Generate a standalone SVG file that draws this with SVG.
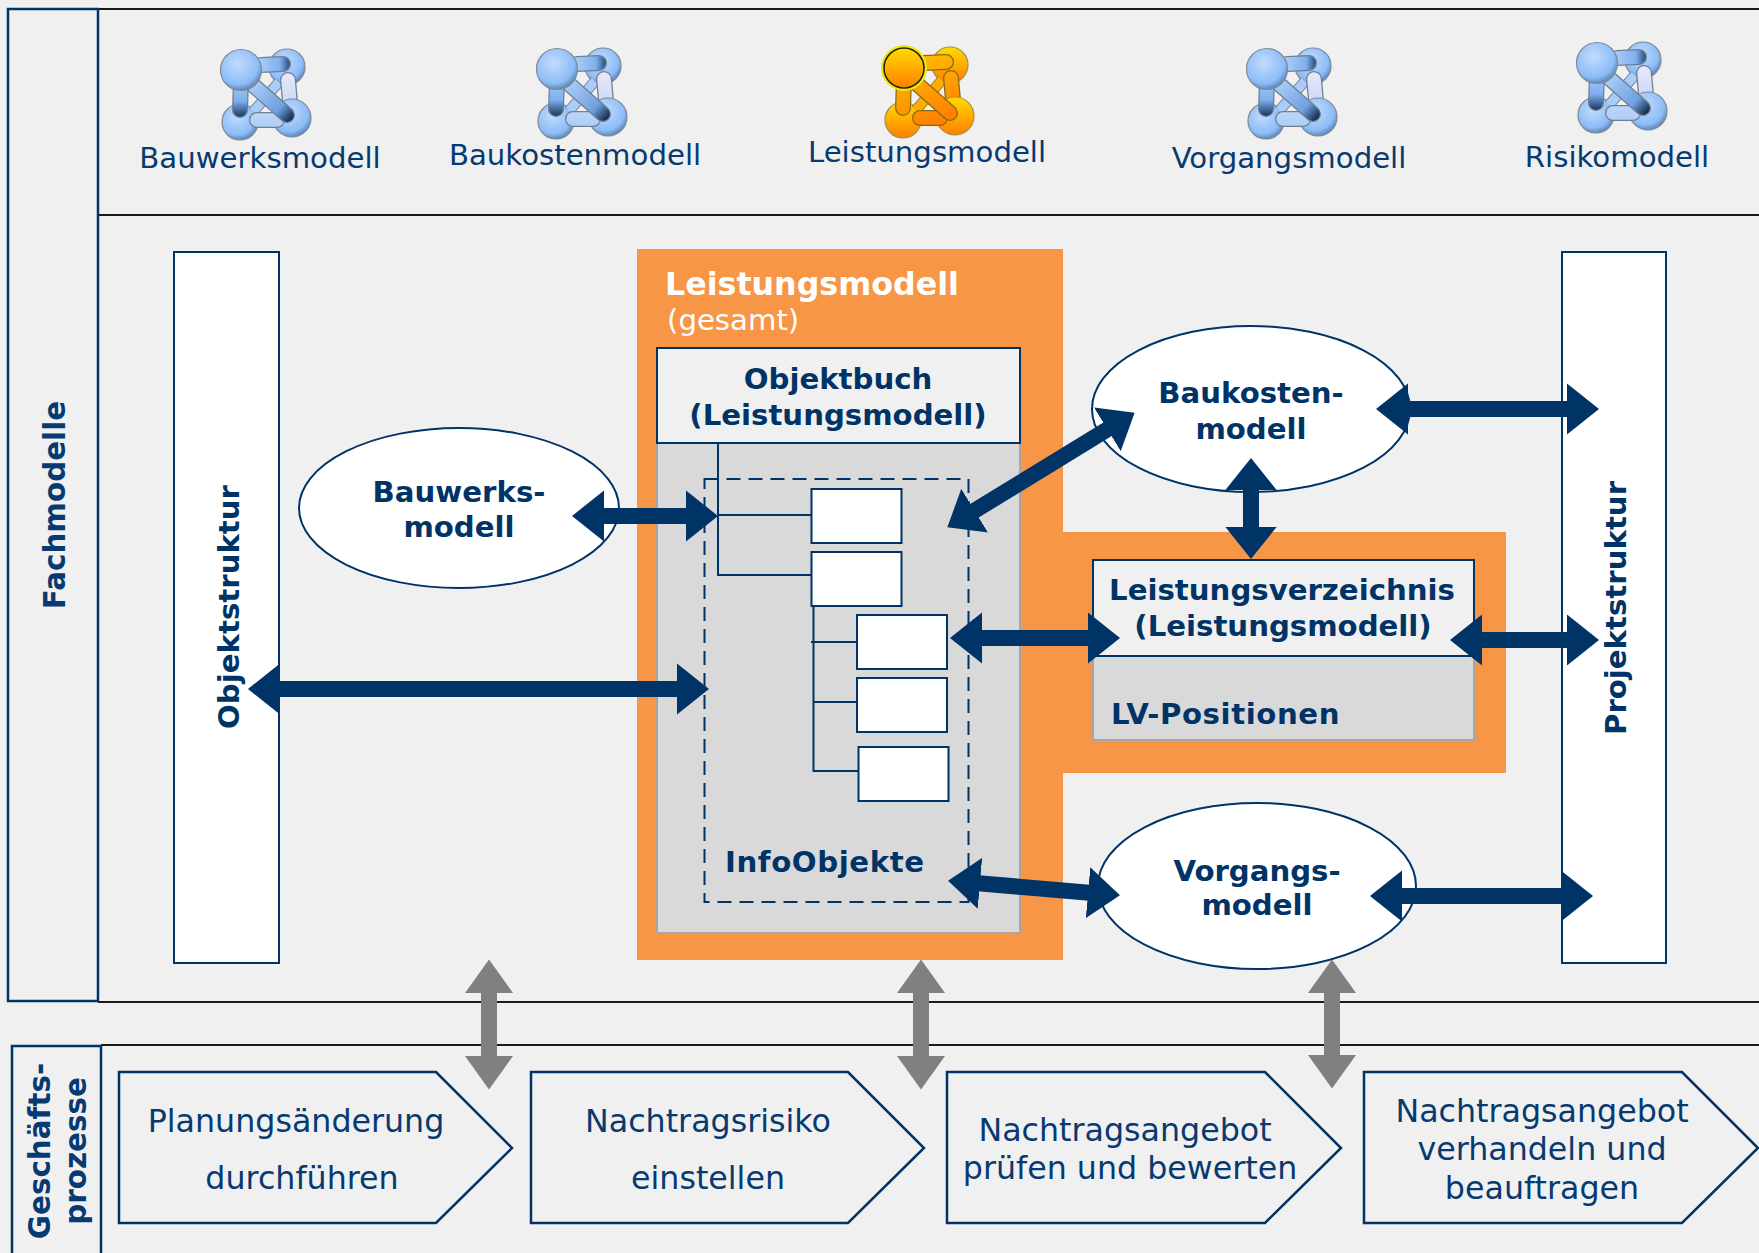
<svg xmlns="http://www.w3.org/2000/svg" xmlns:xlink="http://www.w3.org/1999/xlink" width="1759" height="1253" viewBox="0 0 1759 1253">
<style>
text{font-family:"DejaVu Sans",Verdana,sans-serif;fill:#003366}
.c{text-anchor:middle}
.b{font-weight:bold;font-size:29.2px}
.r{font-size:29.2px;fill:#063a70}
.s{font-size:31.7px;fill:#063a70}
.side{font-weight:bold;font-size:29.4px;text-anchor:middle;fill:#063a70}
.edge{fill:none;stroke:#003366;stroke-width:2.5}
.thin{fill:none;stroke:#003366;stroke-width:2}
.blk{stroke:#1a1a1a;stroke-width:2}
.wht{fill:#fff;stroke:#003366;stroke-width:2}
.arr{stroke:#003366;stroke-width:16;fill:none;marker-start:url(#h);marker-end:url(#h)}
.gar{stroke:#808080;stroke-width:16;fill:none;marker-start:url(#g);marker-end:url(#g)}
.o{stroke:#6f7f92;stroke-width:16;stroke-linecap:round}
.oo{stroke:#8a6a10;stroke-width:16;stroke-linecap:round}
.f{stroke-width:13.500;stroke-linecap:round}
</style>
<defs>
<marker id="h" viewBox="0 0 2 3.2" markerWidth="2" markerHeight="3.2" refX="1" refY="1.6" orient="auto-start-reverse"><path d="M0 0L2 1.6L0 3.2Z" fill="#003366"/></marker>
<marker id="g" viewBox="0 0 2.1 3" markerWidth="2.1" markerHeight="3" refX="1" refY="1.5" orient="auto-start-reverse"><path d="M0 0L2.1 1.5L0 3Z" fill="#808080"/></marker>
<radialGradient id="bc" cx=".42" cy=".35" r=".72"><stop offset="0" stop-color="#c2dcfd"/><stop offset=".7" stop-color="#8cbcf8"/><stop offset="1" stop-color="#4a6f9c"/></radialGradient>
<linearGradient id="bv" gradientUnits="userSpaceOnUse" x1="0" y1="8" x2="0" y2="46"><stop offset="0" stop-color="#a9cdf8"/><stop offset=".6" stop-color="#7fb0ee"/><stop offset="1" stop-color="#1d3f66"/></linearGradient>
<linearGradient id="bh" gradientUnits="userSpaceOnUse" x1="18" y1="0" x2="48" y2="0"><stop offset="0" stop-color="#a9cdf8"/><stop offset=".7" stop-color="#7fb0ee"/><stop offset="1" stop-color="#2c5587"/></linearGradient>
<linearGradient id="bd" gradientUnits="userSpaceOnUse" x1="12" y1="15" x2="50" y2="49"><stop offset="0" stop-color="#a9cdf8"/><stop offset=".7" stop-color="#6f9fe0"/><stop offset="1" stop-color="#14304f"/></linearGradient>
<linearGradient id="bl" gradientUnits="userSpaceOnUse" x1="0" y1="0" x2="0" y2="60"><stop offset="0" stop-color="#f0e8f8"/><stop offset="1" stop-color="#a9cdf8"/></linearGradient>
<linearGradient id="oc" x1="0" y1="0" x2="0" y2="1"><stop offset="0" stop-color="#ffdc00"/><stop offset="1" stop-color="#ff7d00"/></linearGradient>
<linearGradient id="ob" gradientUnits="userSpaceOnUse" x1="0" y1="-10" x2="30" y2="55"><stop offset="0" stop-color="#ffc000"/><stop offset="1" stop-color="#ff8000"/></linearGradient>
<g id="iconB" fill="none">
<circle cx="46" cy="-3" r="18" fill="url(#bc)" stroke="#7f8a96" stroke-width="1.2"/>
<circle cx="-1" cy="52" r="18" fill="url(#bc)" stroke="#7f8a96" stroke-width="1.2"/>
<line x1="12" y1="42" x2="38" y2="12" stroke="#6f7f92" stroke-width="11"/>
<line x1="12" y1="42" x2="38" y2="12" stroke="#a9cdf8" stroke-width="9"/>
<line class="o" x1="0" y1="10" x2="-1" y2="40"/><line class="f" x1="0" y1="10" x2="-1" y2="40" stroke="url(#bv)"/>
<line class="o" x1="20" y1="-5" x2="42" y2="-6"/><line class="f" x1="20" y1="-5" x2="42" y2="-6" stroke="url(#bh)"/>
<line class="o" x1="47" y1="10" x2="49" y2="32"/><line class="f" x1="47" y1="10" x2="49" y2="32" stroke="url(#bl)"/>
<circle cx="51" cy="48" r="19" fill="url(#bc)" stroke="#7f8a96" stroke-width="1.2"/>
<line class="o" x1="16" y1="50" x2="36" y2="50"/><line class="f" x1="16" y1="50" x2="36" y2="50" stroke="url(#bl)"/>
<line class="o" x1="12" y1="15" x2="46" y2="45"/><line class="f" x1="12" y1="15" x2="46" y2="45" stroke="url(#bd)"/>
<circle cx="0" cy="0" r="20.500" fill="url(#bc)" stroke="#7f8a96" stroke-width="1.2"/>
</g>
<g id="iconO" fill="none">
<circle cx="46" cy="-3" r="18" fill="url(#oc)" stroke="#a89040" stroke-width="1.2"/>
<circle cx="-1" cy="52" r="18" fill="url(#oc)" stroke="#a89040" stroke-width="1.2"/>
<line x1="12" y1="42" x2="38" y2="12" stroke="#a87810" stroke-width="11"/>
<line x1="12" y1="42" x2="38" y2="12" stroke="#ffae00" stroke-width="9"/>
<line class="oo" x1="0" y1="10" x2="-1" y2="40"/><line class="f" x1="0" y1="10" x2="-1" y2="40" stroke="url(#ob)"/>
<line class="oo" x1="20" y1="-5" x2="42" y2="-6"/><line class="f" x1="20" y1="-5" x2="42" y2="-6" stroke="url(#ob)"/>
<line class="oo" x1="47" y1="10" x2="49" y2="32"/><line class="f" x1="47" y1="10" x2="49" y2="32" stroke="url(#ob)"/>
<circle cx="51" cy="48" r="19" fill="url(#oc)" stroke="#a89040" stroke-width="1.2"/>
<line class="oo" x1="16" y1="50" x2="36" y2="50"/><line class="f" x1="16" y1="50" x2="36" y2="50" stroke="url(#ob)"/>
<line class="oo" x1="12" y1="15" x2="46" y2="45"/><line class="f" x1="12" y1="15" x2="46" y2="45" stroke="url(#ob)"/>
<circle cx="0" cy="0" r="21" fill="url(#oc)" stroke="#eaea10" stroke-width="4"/>
<circle cx="0" cy="0" r="20" fill="none" stroke="#2a2000" stroke-width="1.6"/>
</g>
</defs>
<rect width="1759" height="1253" fill="#f0f0f0"/>
<g id="frame">
<line class="blk" x1="98" y1="9" x2="1759" y2="9"/>
<line class="blk" x1="98" y1="215" x2="1759" y2="215"/>
<line class="blk" x1="98" y1="1002" x2="1759" y2="1002"/>
<line class="blk" x1="101" y1="1045" x2="1759" y2="1045"/>
</g>
<g id="sidebar-fachmodelle"><rect class="edge" x="8" y="9" width="90" height="992"/><text class="side" transform="translate(65 505) rotate(-90)">Fachmodelle</text></g>
<g id="sidebar-geschaeftsprozesse"><path class="edge" d="M12 1253V1046H101V1253"/><text class="side" transform="translate(50 1151) rotate(-90)">Geschäfts-</text><text class="side" transform="translate(86 1151) rotate(-90)">prozesse</text></g>
<g id="icons">
<g id="icon-bauwerksmodell"><use xlink:href="#iconB" href="#iconB" x="241" y="70"/><text class="r c" x="260" y="168">Bauwerksmodell</text></g>
<g id="icon-baukostenmodell"><use xlink:href="#iconB" href="#iconB" x="557" y="69"/><text class="r c" x="575" y="165">Baukostenmodell</text></g>
<g id="icon-leistungsmodell"><use xlink:href="#iconO" href="#iconO" x="904" y="68"/><text class="r c" x="927" y="162">Leistungsmodell</text></g>
<g id="icon-vorgangsmodell"><use xlink:href="#iconB" href="#iconB" x="1267" y="69"/><text class="r c" x="1289" y="168">Vorgangsmodell</text></g>
<g id="icon-risikomodell"><use xlink:href="#iconB" href="#iconB" x="1597" y="63"/><text class="r c" x="1617" y="167">Risikomodell</text></g>
</g>
<g id="objektstruktur"><rect class="wht" x="174" y="252" width="105" height="711"/><text class="b c" transform="translate(239 607) rotate(-90)">Objektstruktur</text></g>
<g id="projektstruktur"><rect class="wht" x="1562" y="252" width="104" height="711"/><text class="b c" transform="translate(1626 608) rotate(-90)">Projektstruktur</text></g>
<g id="leistungsmodell-gesamt">
<path d="M637 249H1063V532H1506V773H1063V960H637Z" fill="#f79646"/>
<text class="b" x="665" y="295" style="fill:#fff;font-size:31.700px">Leistungsmodell</text>
<text class="r" x="667" y="330" style="fill:#fff">(gesamt)</text>
<rect x="657" y="443" width="363" height="490" fill="#d9d9d9" stroke="#a6a6a6" stroke-width="2"/>
</g>
<g id="objektbuch"><rect x="657" y="348" width="363" height="95" fill="#f0f0f0" stroke="#003366" stroke-width="2"/><text class="b c" x="838" y="389">Objektbuch</text><text class="b c" x="838" y="425">(Leistungsmodell)</text></g>
<g id="infoobjekte"><rect x="704.500" y="479" width="264" height="423" fill="none" stroke="#003366" stroke-width="2" stroke-dasharray="14 8"/><text class="b" x="725" y="872" style="letter-spacing:.6px">InfoObjekte</text></g>
<g id="tree">
<path class="thin" d="M718 443V575H811M718 515H811M813.500 606V771H858M811 642H857M813 702H857"/>
</g>
<g id="box-1"><rect class="wht" x="811.500" y="489" width="90" height="54"/></g>
<g id="box-2"><rect class="wht" x="811.500" y="552" width="90" height="54"/></g>
<g id="box-3"><rect class="wht" x="857" y="615" width="90" height="54"/></g>
<g id="box-4"><rect class="wht" x="857" y="678" width="90" height="54"/></g>
<g id="box-5"><rect class="wht" x="858.500" y="747" width="90" height="54"/></g>
<g id="bauwerksmodell"><ellipse class="wht" cx="459" cy="508" rx="160" ry="80"/><text class="b c" x="459" y="502">Bauwerks-</text><text class="b c" x="459" y="537">modell</text></g>
<g id="baukostenmodell"><ellipse class="wht" cx="1251" cy="409" rx="159" ry="83"/><text class="b c" x="1251" y="403">Baukosten-</text><text class="b c" x="1251" y="439">modell</text></g>
<g id="vorgangsmodell"><ellipse class="wht" cx="1257" cy="886" rx="159" ry="83"/><text class="b c" x="1257" y="881">Vorgangs-</text><text class="b c" x="1257" y="915">modell</text></g>
<g id="leistungsverzeichnis"><rect x="1093" y="656" width="381" height="84" fill="#d9d9d9" stroke="#a6a6a6" stroke-width="2"/><rect x="1093" y="560" width="381" height="96" fill="#f0f0f0" stroke="#003366" stroke-width="2"/><text class="b c" x="1282" y="600">Leistungsverzeichnis</text><text class="b c" x="1283" y="636">(Leistungsmodell)</text><text class="b" x="1111" y="724" style="letter-spacing:.6px">LV-Positionen</text></g>
<g id="connectors">
<line class="arr" x1="588" y1="516" x2="702" y2="516"/>
<line class="arr" x1="264" y1="689" x2="693" y2="689"/>
<line class="arr" x1="961" y1="519" x2="1121" y2="421"/>
<line class="arr" x1="1392" y1="409" x2="1583" y2="409"/>
<line class="arr" x1="1251" y1="474" x2="1251" y2="543"/>
<line class="arr" x1="966" y1="638" x2="1104" y2="638"/>
<line class="arr" x1="1466" y1="640" x2="1583" y2="640"/>
<line class="arr" x1="964" y1="882" x2="1104" y2="894"/>
<line class="arr" x1="1386" y1="896" x2="1577" y2="896"/>
<line class="gar" x1="489" y1="977" x2="489" y2="1072"/>
<line class="gar" x1="921" y1="977" x2="921" y2="1072"/>
<line class="gar" x1="1332" y1="977" x2="1332" y2="1071"/>
</g>
<g id="step-1"><path class="edge" d="M119 1072H436L512 1148L436 1223H119Z"/><text class="s c" x="296" y="1132">Planungsänderung</text><text class="s c" x="302" y="1189">durchführen</text></g>
<g id="step-2"><path class="edge" d="M531 1072H848L924 1148L848 1223H531Z"/><text class="s c" x="708" y="1132">Nachtragsrisiko</text><text class="s c" x="708" y="1189">einstellen</text></g>
<g id="step-3"><path class="edge" d="M947 1072H1265L1341 1148L1265 1223H947Z"/><text class="s c" x="1125" y="1141">Nachtragsangebot</text><text class="s c" x="1130" y="1179">prüfen und bewerten</text></g>
<g id="step-4"><path class="edge" d="M1364 1072H1682L1758 1148L1682 1223H1364Z"/><text class="s c" x="1542" y="1122">Nachtragsangebot</text><text class="s c" x="1542" y="1160">verhandeln und</text><text class="s c" x="1542" y="1199">beauftragen</text></g>
</svg>
